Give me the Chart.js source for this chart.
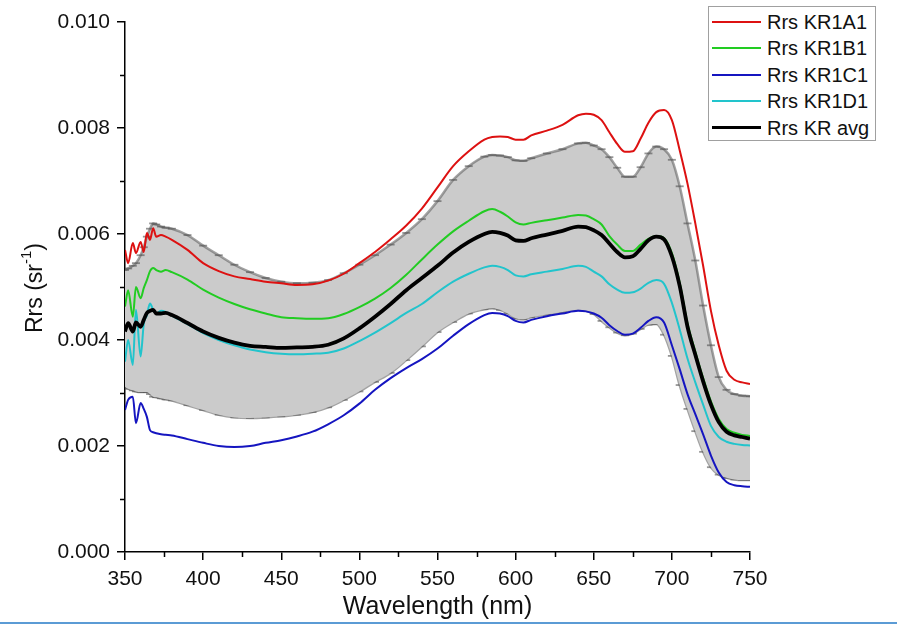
<!DOCTYPE html>
<html>
<head>
<meta charset="utf-8">
<title>Rrs KR</title>
<script src="https://cdn.jsdelivr.net/npm/chart.js@4.4.1/dist/chart.umd.min.js"></script>
<style>
  html, body { margin: 0; padding: 0; background: #fff; }
  #wrap { position: relative; width: 897px; height: 629px; overflow: hidden; }
  #legend {
    position: absolute; left: 708px; top: 6px; width: 168px; height: 135px;
    border: 1px solid #a0a0a0; box-sizing: border-box; background: #fff;
    font-family: Arial, "Liberation Sans", sans-serif; font-size: 20px; color: #111;
  }
  #legend .row { position: absolute; left: 0; width: 100%; height: 26px; }
  #legend .swatch { position: absolute; left: 3px; width: 49px; }
  #legend .label { position: absolute; left: 58px; top: 0; line-height: 26px; white-space: nowrap; }
  #edge { position: absolute; left: 0; top: 622px; width: 897px; height: 2px; background: #5b9bd5; }
</style>
</head>
<body>
<div id="wrap">
  <canvas id="rrsChart" width="897" height="629"></canvas>
  <div id="legend"></div>
  <div id="edge"></div>
</div>
<script>
// wavelength grid (nm)
const wavelengths = [350, 352, 355, 357, 360, 362, 364, 366, 368, 370, 373, 376, 380,
  390, 400, 410, 420, 430, 440, 450, 460, 470, 480, 490, 500, 510, 520, 530, 540, 550,
  560, 570, 580, 585, 590, 595, 600, 605, 610, 620, 630, 640,
  645, 650, 655, 660, 665, 670, 675, 680, 685, 690, 695, 700, 705, 710, 715, 720, 725, 730, 735, 740, 745, 750];

// remote sensing reflectance per station (sr^-1)
const rrsKR1A1 = [0.00570, 0.00545, 0.00583, 0.00564, 0.00585, 0.00566, 0.00602, 0.00589, 0.00611, 0.00595, 0.00598, 0.00595, 0.00589,
  0.00570, 0.00545, 0.00530, 0.00520, 0.00515, 0.00510, 0.00507, 0.00504, 0.00505, 0.00512, 0.00525, 0.00545, 0.00566, 0.00590, 0.00616, 0.00648, 0.00688,
  0.00728, 0.00756, 0.00778, 0.00783, 0.00784, 0.00783, 0.00778, 0.00778, 0.00786, 0.00795, 0.00806, 0.00824,
  0.00827, 0.00825, 0.00815, 0.00792, 0.00770, 0.00755, 0.00756, 0.00780, 0.00810, 0.00830, 0.00834, 0.00815, 0.00758, 0.00695, 0.00620, 0.00540, 0.00455, 0.00390, 0.00342, 0.00325, 0.00320, 0.00317];

const rrsKR1B1 = [0.00463, 0.00494, 0.00444, 0.00500, 0.00479, 0.00498, 0.00513, 0.00530, 0.00536, 0.00532, 0.00529, 0.00532, 0.00528,
  0.00514, 0.00495, 0.00480, 0.00468, 0.00458, 0.00450, 0.00443, 0.00441, 0.00440, 0.00441, 0.00449, 0.00462, 0.00478, 0.00498, 0.00523, 0.00552, 0.00580,
  0.00605, 0.00625, 0.00643, 0.00647, 0.00642, 0.00633, 0.00622, 0.00618, 0.00621, 0.00626, 0.00631, 0.00636,
  0.00635, 0.00628, 0.00618, 0.00596, 0.00580, 0.00568, 0.00568, 0.00580, 0.00591, 0.00596, 0.00592, 0.00564, 0.00508, 0.00431, 0.00378, 0.00328, 0.00284, 0.00251, 0.00232, 0.00225, 0.00221, 0.00219];

const rrsKR1C1 = [0.00268, 0.00287, 0.00293, 0.00243, 0.00281, 0.00270, 0.00255, 0.00230, 0.00226, 0.00224, 0.00222, 0.00221, 0.00220,
  0.00213, 0.00206, 0.00200, 0.00198, 0.00200, 0.00206, 0.00211, 0.00218, 0.00227, 0.00241, 0.00258, 0.00280, 0.00306, 0.00328, 0.00347, 0.00364, 0.00384,
  0.00408, 0.00430, 0.00447, 0.00451, 0.00450, 0.00445, 0.00436, 0.00433, 0.00438, 0.00445, 0.00450, 0.00455,
  0.00454, 0.00450, 0.00442, 0.00428, 0.00417, 0.00410, 0.00412, 0.00423, 0.00436, 0.00443, 0.00433, 0.00390, 0.00345, 0.00298, 0.00260, 0.00222, 0.00182, 0.00150, 0.00132, 0.00126, 0.00124, 0.00123];

const rrsKR1D1 = [0.00359, 0.00400, 0.00353, 0.00457, 0.00369, 0.00430, 0.00447, 0.00469, 0.00457, 0.00450, 0.00455, 0.00453, 0.00446,
  0.00430, 0.00413, 0.00400, 0.00390, 0.00382, 0.00377, 0.00374, 0.00373, 0.00374, 0.00376, 0.00384, 0.00398, 0.00414, 0.00432, 0.00451, 0.00468, 0.00490,
  0.00510, 0.00525, 0.00537, 0.00540, 0.00538, 0.00532, 0.00522, 0.00520, 0.00524, 0.00529, 0.00534, 0.00540,
  0.00538, 0.00529, 0.00520, 0.00505, 0.00495, 0.00489, 0.00490, 0.00497, 0.00508, 0.00513, 0.00506, 0.00470, 0.00420, 0.00365, 0.00320, 0.00278, 0.00238, 0.00217, 0.00208, 0.00204, 0.00202, 0.00201];

const rrsKRavg = [0.00416, 0.00432, 0.00416, 0.00433, 0.00425, 0.00438, 0.00451, 0.00455, 0.00457, 0.00450, 0.00450, 0.00451, 0.00447,
  0.00432, 0.00416, 0.00404, 0.00395, 0.00389, 0.00387, 0.00385, 0.00386, 0.00387, 0.00391, 0.00403, 0.00422, 0.00444, 0.00468, 0.00494, 0.00517, 0.00540,
  0.00565, 0.00585, 0.00600, 0.00604, 0.00602, 0.00597, 0.00588, 0.00587, 0.00592, 0.00599, 0.00606, 0.00614,
  0.00613, 0.00607, 0.00598, 0.00582, 0.00566, 0.00556, 0.00558, 0.00572, 0.00588, 0.00595, 0.00590, 0.00558, 0.00502, 0.00425, 0.00372, 0.00322, 0.00278, 0.00245, 0.00227, 0.00220, 0.00217, 0.00214];

// standard deviation envelope around the average
const rrsUpper = [0.00532, 0.00535, 0.00540, 0.00545, 0.00560, 0.00575, 0.00595, 0.00610, 0.00620, 0.00618, 0.00614, 0.00612, 0.00610,
  0.00598, 0.00578, 0.00560, 0.00542, 0.00528, 0.00517, 0.00510, 0.00507, 0.00508, 0.00513, 0.00526, 0.00542, 0.00560, 0.00580, 0.00602, 0.00628, 0.00662,
  0.00702, 0.00728, 0.00746, 0.00749, 0.00748, 0.00745, 0.00739, 0.00738, 0.00743, 0.00752, 0.00760, 0.00771,
  0.00772, 0.00767, 0.00760, 0.00745, 0.00725, 0.00708, 0.00708, 0.00726, 0.00752, 0.00765, 0.00760, 0.00740, 0.00690, 0.00620, 0.00550, 0.00465, 0.00390, 0.00330, 0.00306, 0.00298, 0.00295, 0.00294];

const rrsLower = [0.00312, 0.00308, 0.00305, 0.00303, 0.00302, 0.00302, 0.00302, 0.00298, 0.00293, 0.00292, 0.00290, 0.00288, 0.00286,
  0.00277, 0.00268, 0.00259, 0.00254, 0.00253, 0.00254, 0.00256, 0.00259, 0.00264, 0.00273, 0.00287, 0.00303, 0.00321, 0.00338, 0.00362, 0.00388, 0.00415,
  0.00434, 0.00450, 0.00458, 0.00460, 0.00457, 0.00450, 0.00441, 0.00439, 0.00443, 0.00448, 0.00453, 0.00457,
  0.00455, 0.00449, 0.00436, 0.00424, 0.00414, 0.00409, 0.00412, 0.00421, 0.00429, 0.00430, 0.00410, 0.00370, 0.00315, 0.00270, 0.00228, 0.00189, 0.00160, 0.00146, 0.00140, 0.00137, 0.00136, 0.00136];

// minor tick positions
const xMinorTicks = [375, 425, 475, 525, 575, 625, 675, 725];
const yMinorTicks = [0.001, 0.003, 0.005, 0.007, 0.009];

const fontFamily = 'Arial, "Liberation Sans", sans-serif';

const toPoints = arr => arr.map((v, i) => ({ x: wavelengths[i], y: v }));

const series = [
  { label: 'Rrs KR1A1', data: rrsKR1A1, color: '#dd1111', width: 2, order: 3 },
  { label: 'Rrs KR1B1', data: rrsKR1B1, color: '#22cc22', width: 2, order: 4 },
  { label: 'Rrs KR1C1', data: rrsKR1C1, color: '#1515c0', width: 2, order: 2 },
  { label: 'Rrs KR1D1', data: rrsKR1D1, color: '#22c4cc', width: 2, order: 5 },
  { label: 'Rrs KR avg', data: rrsKRavg, color: '#000000', width: 3.8, order: 0 }
];

const lineSets = series.map(s => ({
  label: s.label,
  data: toPoints(s.data),
  borderColor: s.color,
  borderWidth: s.width,
  pointRadius: 0,
  fill: false,
  cubicInterpolationMode: 'monotone',
  order: s.order
}));

// error bars drawn as a grey band with dash caps on both edges
const capStyle = {
  borderColor: 'rgba(100,100,100,0.6)',
  borderWidth: 2.5,
  pointStyle: 'line',
  pointRadius: 4,
  pointBorderColor: 'rgba(80,80,80,0.6)',
  pointBorderWidth: 1.8,
  cubicInterpolationMode: 'monotone'
};
const bandSets = [
  Object.assign({ label: 'upper', data: toPoints(rrsUpper), backgroundColor: '#cbcbcb', fill: '+1', order: 10 }, capStyle),
  Object.assign({ label: 'lower', data: toPoints(rrsLower), fill: false, order: 11 }, capStyle)
];

const minorTicks = {
  id: 'minorTicks',
  afterDraw(chart) {
    const { ctx, scales: { x, y } } = chart;
    ctx.save();
    ctx.strokeStyle = '#000';
    ctx.lineWidth = 1.5;
    ctx.beginPath();
    xMinorTicks.forEach(v => {
      const px = Math.round(x.getPixelForValue(v)) + 0.5;
      ctx.moveTo(px, y.bottom);
      ctx.lineTo(px, y.bottom + 5);
    });
    yMinorTicks.forEach(v => {
      const py = Math.round(y.getPixelForValue(v)) + 0.5;
      ctx.moveTo(x.left, py);
      ctx.lineTo(x.left - 5, py);
    });
    ctx.stroke();
    ctx.restore();
  }
};

// y axis title with a real superscript on the unit
const yTitle = {
  id: 'yTitle',
  afterDraw(chart) {
    const { ctx, chartArea } = chart;
    const parts = [
      { text: 'Rrs (sr', size: 23, rise: 0 },
      { text: '-1', size: 15, rise: 9 },
      { text: ')', size: 23, rise: 0 }
    ];
    ctx.save();
    let total = 0;
    parts.forEach(p => {
      ctx.font = p.size + 'px ' + fontFamily;
      p.w = ctx.measureText(p.text).width;
      total += p.w;
    });
    ctx.translate(36, (chartArea.top + chartArea.bottom) / 2 + 1);
    ctx.rotate(-Math.PI / 2);
    ctx.fillStyle = '#111';
    ctx.textBaseline = 'middle';
    let cx = -total / 2;
    parts.forEach(p => {
      ctx.font = p.size + 'px ' + fontFamily;
      ctx.fillText(p.text, cx, -p.rise + (p.rise ? 0 : 0));
      cx += p.w;
    });
    ctx.restore();
  }
};

new Chart(document.getElementById('rrsChart').getContext('2d'), {
  type: 'line',
  data: { datasets: bandSets.concat(lineSets) },
  options: {
    responsive: false,
    animation: false,
    layout: { padding: { top: 22, right: 147, bottom: 0, left: 0 } },
    plugins: {
      legend: { display: false },
      tooltip: { enabled: false }
    },
    scales: {
      x: {
        type: 'linear',
        min: 350,
        max: 750,
        afterFit: scale => { scale.height = 77; },
        ticks: { stepSize: 50, color: '#111', padding: 7, font: { family: fontFamily, size: 21 } },
        grid: { drawOnChartArea: false, drawTicks: true, tickLength: 8, color: '#000', lineWidth: 1.5 },
        border: { display: true, color: '#000', width: 1.5 },
        title: {
          display: true,
          text: 'Wavelength (nm)',
          color: '#111',
          font: { family: fontFamily, size: 25 },
          padding: { top: 0, bottom: 7 }
        }
      },
      y: {
        min: 0,
        max: 0.010,
        afterFit: scale => { scale.width = 125; },
        ticks: {
          stepSize: 0.002,
          color: '#111',
          padding: 7,
          font: { family: fontFamily, size: 21 },
          callback: v => v.toFixed(3)
        },
        grid: { drawOnChartArea: false, drawTicks: true, tickLength: 8, color: '#000', lineWidth: 1.5 },
        border: { display: true, color: '#000', width: 1.5 }
      }
    }
  },
  plugins: [minorTicks, yTitle]
});

// legend box in the upper right corner
const legendBox = document.getElementById('legend');
series.forEach((s, i) => {
  const row = document.createElement('div');
  row.className = 'row';
  row.style.top = (2 + i * 26.4) + 'px';
  const swatch = document.createElement('div');
  swatch.className = 'swatch';
  swatch.style.background = s.color;
  swatch.style.height = s.width + 'px';
  swatch.style.top = (13 - s.width / 2) + 'px';
  const label = document.createElement('div');
  label.className = 'label';
  label.textContent = s.label;
  row.appendChild(swatch);
  row.appendChild(label);
  legendBox.appendChild(row);
});
</script>
</body>
</html>
